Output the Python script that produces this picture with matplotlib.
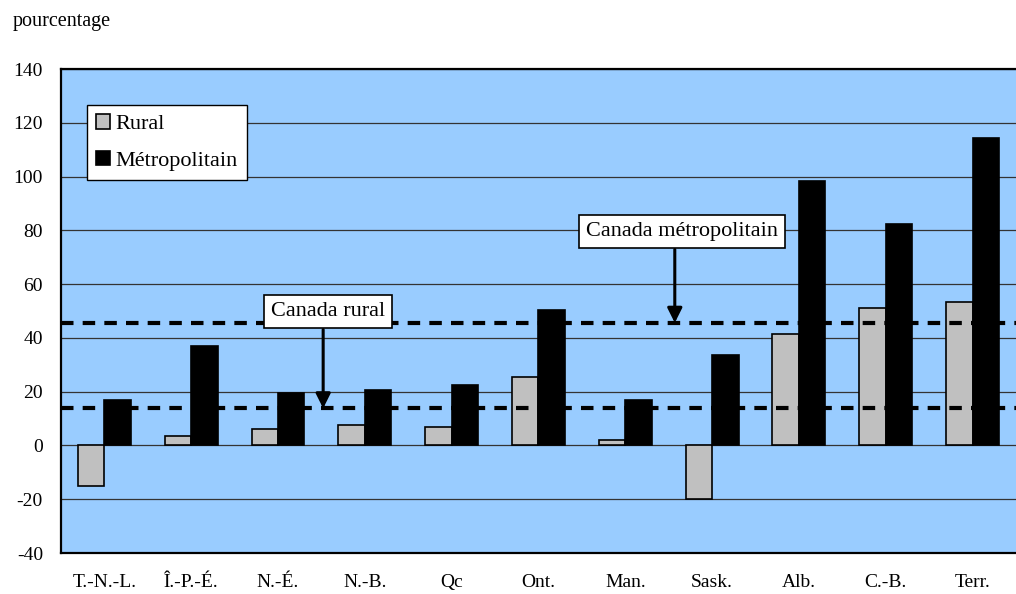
import matplotlib.pyplot as plt
import numpy as np

plt.rcParams['font.family'] = ['Liberation Serif', 'DejaVu Serif']

provinces = ["T.-N.-L.", "Î.-P.-É.", "N.-É.", "N.-B.", "Qc", "Ont.",
             "Man.", "Sask.", "Alb.", "C.-B.", "Terr."]
rural = [-15, 3.7, 6, 7.5, 6.7, 25.3, 2.2, -20, 41.5, 51.2, 53.3]
metro = [17, 37, 19.5, 20.5, 22.3, 50.5, 17, 33.8, 98.2, 82.4, 114.2]
canada_rural = 13.8
canada_metro = 45.6

fig = plt.figure(figsize=(10.16, 5.94), dpi=100)
ax = fig.add_axes([0.060, 0.069, 0.94, 0.8148])
ax.set_facecolor("#99CCFF")

x = np.arange(len(provinces))
w = 0.305
ax.bar(x - w / 2, rural, w, color="#C0C0C0", edgecolor="black", linewidth=1.2,
       label="Rural", zorder=3)
ax.bar(x + w / 2, metro, w, color="black", edgecolor="black", linewidth=1.2,
       label="Métropolitain", zorder=3)

# gridlines every 20
ax.set_ylim(-40, 140)
ax.set_yticks(np.arange(-40, 141, 20))
ax.set_yticklabels([str(v) for v in range(-40, 141, 20)])
ax.yaxis.grid(True, color="#333333", linewidth=0.9, zorder=1)
ax.set_axisbelow(True)
ax.set_xlim(-0.5, len(provinces) - 0.5)
ax.set_xticks(x)
ax.set_xticklabels(provinces)
ax.tick_params(axis="both", length=0, labelsize=14)
ax.tick_params(axis="y", pad=13)
ax.tick_params(axis="x", pad=15)

for s in ["left", "top", "bottom"]:
    ax.spines[s].set_linewidth(1.6)
ax.spines["right"].set_visible(False)

# national averages
ax.axhline(canada_rural, color="black", linewidth=3, linestyle=(0, (3, 2.2)), zorder=4)
ax.axhline(canada_metro, color="black", linewidth=3, linestyle=(0, (3, 2.2)), zorder=4)

box = dict(boxstyle="square,pad=0.3", facecolor="white", edgecolor="black", linewidth=1.2)
arrow = dict(arrowstyle="-|>", color="black", linewidth=2.2, mutation_scale=22,
             shrinkA=0, shrinkB=0)
ax.annotate("", xy=(2.52, canada_rural), xytext=(2.52, 43.1), arrowprops=arrow, zorder=5)
ax.text(2.576, 49.8, "Canada rural", ha="center", va="center", fontsize=16,
        bbox=box, zorder=6)
ax.annotate("", xy=(6.57, canada_metro), xytext=(6.57, 72.9), arrowprops=arrow, zorder=5)
ax.text(6.654, 79.6, "Canada métropolitain", ha="center", va="center", fontsize=16,
        bbox=box, zorder=6)

leg = ax.legend(loc="upper left", bbox_to_anchor=(0.027, 0.926), fontsize=16,
                frameon=True, fancybox=False, edgecolor="black", framealpha=1,
                handlelength=0.65, handleheight=0.65, handletextpad=0.25,
                labelspacing=0.75, borderpad=0.4, borderaxespad=0)
leg.get_frame().set_linewidth(1.0)

fig.text(0.012, 0.956, "pourcentage", fontsize=14.5, ha="left", va="baseline")

fig.savefig("out.png", dpi=100)
